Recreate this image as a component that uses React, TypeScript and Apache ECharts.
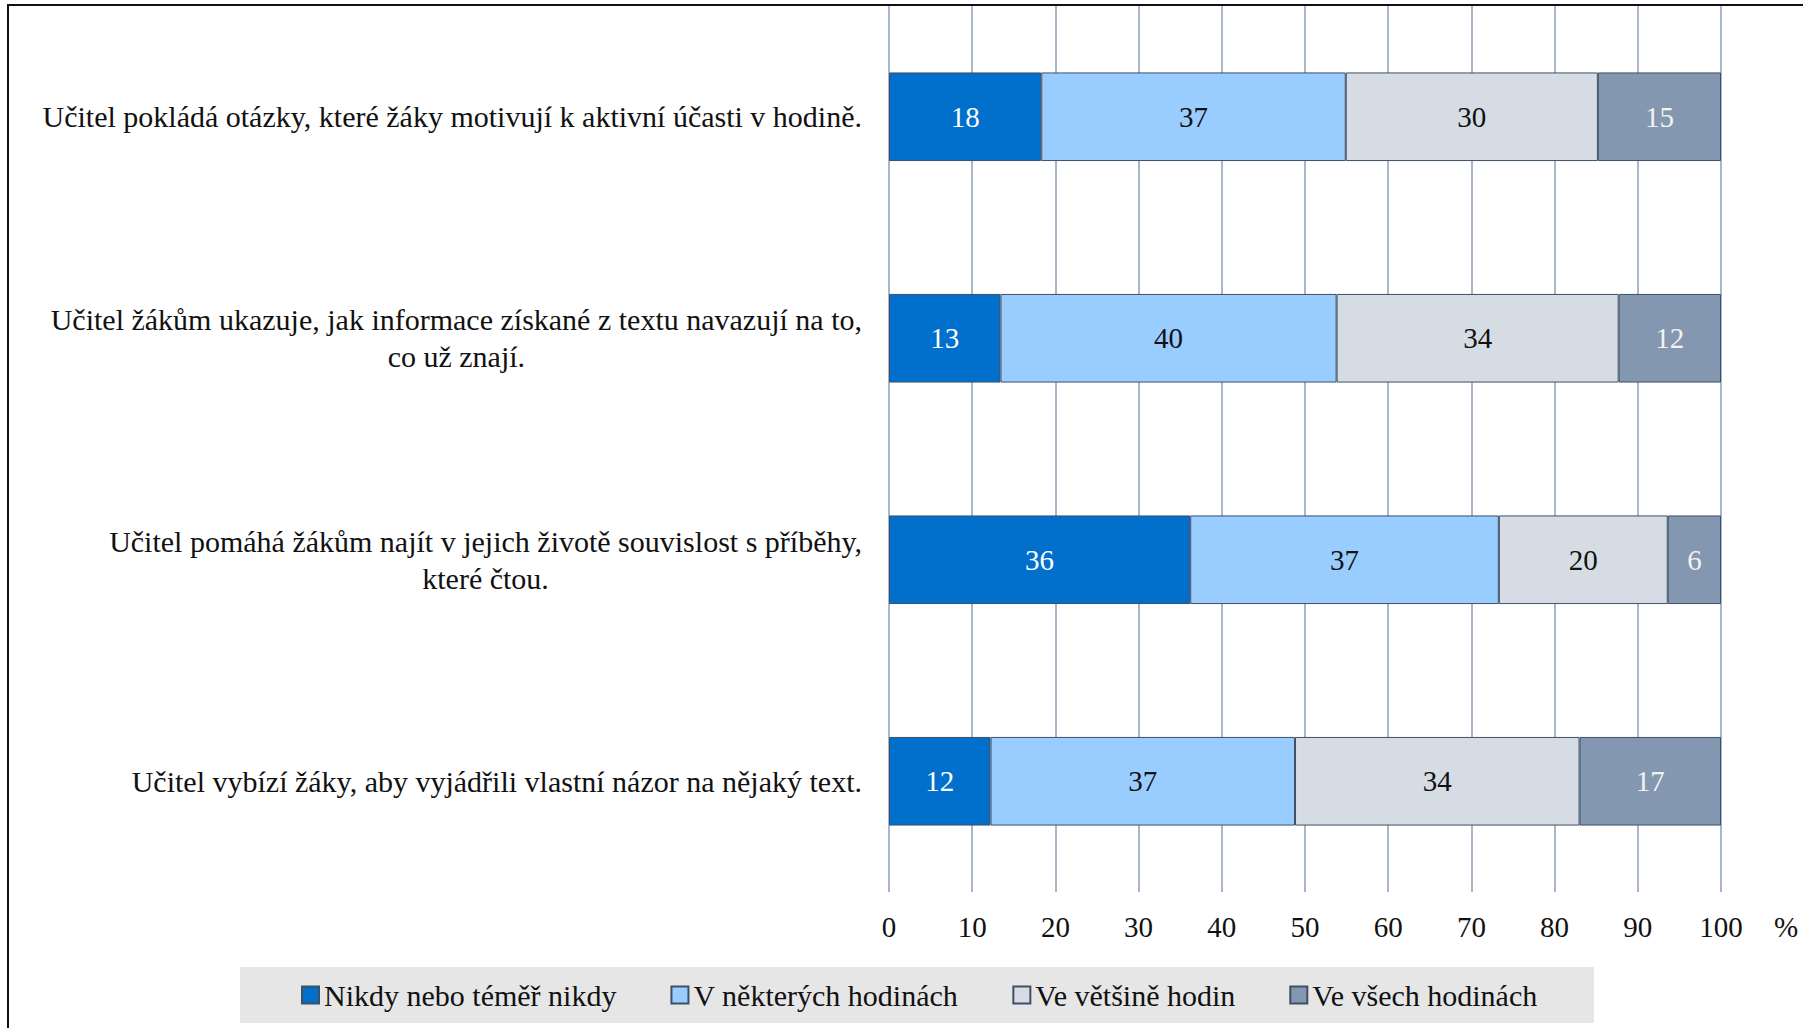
import React, { useEffect, useRef } from "react";
import * as echarts from "echarts";

const categories = [
  "Učitel pokládá otázky, které žáky motivují k aktivní účasti v hodině.",
  "Učitel žákům ukazuje, jak informace získané z textu navazují na to,\nco už znají.",
  "Učitel pomáhá žákům najít v jejich životě souvislost s příběhy,\nkteré čtou.",
  "Učitel vybízí žáky, aby vyjádřili vlastní názor na nějaký text.",
];

const seriesNames = [
  "Nikdy nebo téměř nikdy",
  "V některých hodinách",
  "Ve většině hodin",
  "Ve všech hodinách",
];

const neverValues = [18.3, 13.4, 36.2, 12.2];
const someValues = [36.6, 40.4, 37.1, 36.6];
const mostValues = [30.3, 33.9, 20.3, 34.2];
const allValues = [14.8, 12.3, 6.4, 17.0];

const xTicks = [0, 10, 20, 30, 40, 50, 60, 70, 80, 90, 100];

const colors = ["#0070cc", "#99ccff", "#d6dce4", "#8497b0"];
const labelColors = ["#ffffff", "#111111", "#111111", "#f2f2f2"];

const FONT = "'Liberation Serif', 'Times New Roman', serif";

export default function App() {
  const ref = useRef<HTMLDivElement>(null);

  useEffect(() => {
    if (!ref.current) return;
    const chart = echarts.init(ref.current, undefined, { renderer: "svg" });
    const values = [neverValues, someValues, mostValues, allValues];

    const option: any = {
      animation: false,
      backgroundColor: "#ffffff",
      textStyle: { fontFamily: FONT },
      grid: { left: 889, right: 82, top: 6, bottom: 136, containLabel: false },
      xAxis: {
        type: "value",
        min: xTicks[0],
        max: xTicks[xTicks.length - 1],
        interval: 10,
        axisLine: { show: false },
        axisTick: { show: false },
        splitLine: { show: true, lineStyle: { color: "#a9b6cb", width: 2 } },
        axisLabel: {
          margin: 20,
          fontSize: 29,
          color: "#111111",
          fontFamily: FONT,
        },
        name: "%",
        nameLocation: "end",
        nameGap: 53,
        nameTextStyle: {
          fontSize: 29,
          color: "#111111",
          fontFamily: FONT,
          verticalAlign: "top",
          padding: [20, 0, 0, 0],
        },
      },
      yAxis: {
        type: "category",
        data: categories,
        inverse: true,
        axisLine: { show: false },
        axisTick: { show: false },
        splitLine: { show: false },
        axisLabel: {
          margin: 27,
          formatter: (v: string) =>
            v
              .split("\n")
              .map((l) => `{c|${l}}`)
              .join("\n"),
          rich: {
            c: {
              align: "center",
              fontSize: 30,
              lineHeight: 37,
              color: "#111111",
              fontFamily: FONT,
            },
          },
        },
      },
      legend: {
        left: 296,
        top: 975,
        itemWidth: 17,
        itemHeight: 17,
        itemGap: 54,
        icon: "rect",
        textStyle: {
          fontSize: 30,
          color: "#111111",
          fontFamily: FONT,
          padding: [0, 0, 0, 0],
        },
        data: seriesNames.map((n) => ({ name: n })),
      },
      graphic: [
        {
          type: "rect",
          z: -10,
          shape: { x: 240, y: 967, width: 1354, height: 56 },
          style: { fill: "#e6e6e6" },
        },
        {
          type: "rect",
          z: 100,
          shape: { x: 8, y: 5, width: 1810, height: 1040 },
          style: { fill: "none", stroke: "#111111", lineWidth: 2 },
        },
      ],
      series: seriesNames.map((name, i) => ({
        name,
        type: "bar",
        stack: "total",
        barCategoryGap: "60%",
        data: values[i],
        itemStyle: {
          color: colors[i],
          borderColor: "#3f4f66",
          borderWidth: 1,
        },
        label: {
          show: true,
          position: "inside",
          fontSize: 29,
          fontFamily: FONT,
          color: labelColors[i],
          formatter: (p: any) => String(Math.round(p.value)),
        },
      })),
    };

    chart.setOption(option);
    return () => chart.dispose();
  }, []);

  return (
    <div
      ref={ref}
      style={{ position: "fixed", left: 0, top: 0, width: 1803, height: 1028 }}
    />
  );
}
